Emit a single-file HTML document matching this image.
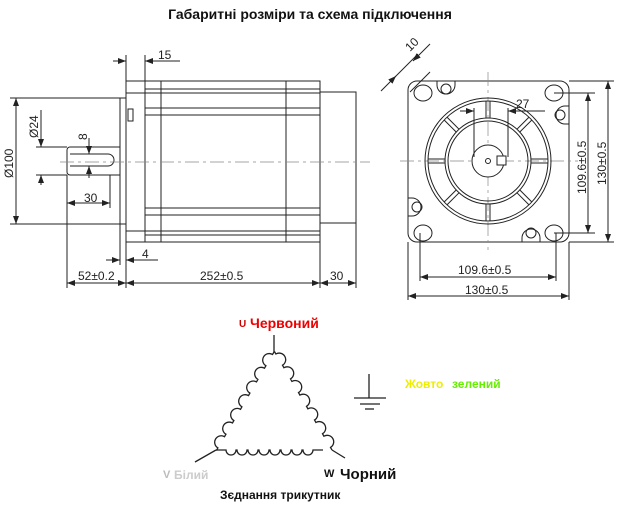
<!DOCTYPE html>
<html><head><meta charset="utf-8"><style>
html,body{margin:0;padding:0;background:#fff;}
svg{display:block;}
text{font-family:"Liberation Sans",sans-serif;}
</style></head><body>
<svg width="617" height="508" viewBox="0 0 617 508" xmlns="http://www.w3.org/2000/svg">
<defs>
<marker id="a" markerWidth="8" markerHeight="6" refX="8" refY="3" orient="auto" markerUnits="userSpaceOnUse"><path d="M0,0 L8,3 L0,6 z" fill="#222"/></marker>
</defs>
<text x="310" y="19" text-anchor="middle" font-size="14" font-weight="bold" fill="#111">Габаритні розміри та схема підключення</text>

<g stroke="#222" stroke-width="1" fill="none">
<rect x="126" y="81" width="194" height="161"/>
<line x1="145" y1="81" x2="145" y2="242"/>
<line x1="161" y1="81" x2="161" y2="242"/>
<line x1="286" y1="81" x2="286" y2="242"/>
<line x1="145" y1="89" x2="320" y2="89"/>
<line x1="126" y1="93" x2="320" y2="93"/>
<line x1="145" y1="108" x2="320" y2="108"/>
<line x1="145" y1="115" x2="320" y2="115"/>
<line x1="145" y1="208" x2="320" y2="208"/>
<line x1="145" y1="215" x2="320" y2="215"/>
<line x1="126" y1="231" x2="320" y2="231"/>
<line x1="145" y1="235" x2="320" y2="235"/>
<rect x="320" y="92" width="36" height="131"/>
<rect x="120" y="98" width="6" height="126"/>
<rect x="128" y="109" width="5" height="12"/>
<path d="M120,147 H70 a3,3 0 0 0 -3,3 V172 a3,3 0 0 0 3,3 H120"/>
<line x1="70" y1="154" x2="108" y2="154"/><line x1="70" y1="166" x2="108" y2="166"/>
<path d="M108,154 a6,6 0 0 1 0,12"/>
<line x1="60" y1="162" x2="370" y2="162" stroke-dasharray="14,4,3,4" stroke-width="0.7" stroke="#888"/>
<line x1="126" y1="55" x2="126" y2="81"/><line x1="145" y1="55" x2="145" y2="81"/>
<line x1="113" y1="61" x2="126" y2="61" marker-end="url(#a)"/><line x1="180" y1="61" x2="145" y2="61" marker-end="url(#a)"/>
<line x1="10" y1="98" x2="120" y2="98"/><line x1="10" y1="224" x2="120" y2="224"/>
<line x1="16" y1="162" x2="16" y2="98" marker-end="url(#a)"/><line x1="16" y1="162" x2="16" y2="224" marker-end="url(#a)"/>
<line x1="36" y1="147" x2="67" y2="147"/><line x1="36" y1="175" x2="67" y2="175"/>
<line x1="41" y1="110" x2="41" y2="147" marker-end="url(#a)"/><line x1="41" y1="185" x2="41" y2="175" marker-end="url(#a)"/>
<line x1="89" y1="138" x2="89" y2="154" marker-end="url(#a)"/><line x1="89" y1="178" x2="89" y2="166" marker-end="url(#a)"/>
<line x1="110" y1="175" x2="110" y2="208"/>
<line x1="88" y1="203" x2="67" y2="203" marker-end="url(#a)"/><line x1="88" y1="203" x2="110" y2="203" marker-end="url(#a)"/>
<line x1="67" y1="175" x2="67" y2="288"/><line x1="120" y1="224" x2="120" y2="265"/><line x1="126" y1="242" x2="126" y2="288"/>
<line x1="320" y1="242" x2="320" y2="288"/><line x1="356" y1="223" x2="356" y2="288"/>
<line x1="106" y1="260" x2="120" y2="260" marker-end="url(#a)"/><line x1="158" y1="260" x2="126" y2="260" marker-end="url(#a)"/>
<line x1="96" y1="283" x2="67" y2="283" marker-end="url(#a)"/><line x1="96" y1="283" x2="126" y2="283" marker-end="url(#a)"/>
<line x1="223" y1="283" x2="126" y2="283" marker-end="url(#a)"/><line x1="223" y1="283" x2="320" y2="283" marker-end="url(#a)"/>
<line x1="338" y1="283" x2="320" y2="283" marker-end="url(#a)"/><line x1="338" y1="283" x2="356" y2="283" marker-end="url(#a)"/>

<rect x="408" y="81" width="161" height="161" rx="9"/>
<line x1="488" y1="72" x2="488" y2="250" stroke="#888" stroke-width="0.7" stroke-dasharray="14,4,3,4"/>
<line x1="400" y1="161" x2="578" y2="161" stroke="#888" stroke-width="0.7" stroke-dasharray="14,4,3,4"/>
<circle cx="488" cy="161" r="63"/><circle cx="488" cy="161" r="60"/>
<circle cx="488" cy="161" r="43"/><circle cx="488" cy="161" r="40"/>
<g transform="translate(488,161)">
<g id="sp"><line x1="-2" y1="-43" x2="-2" y2="-60"/><line x1="2" y1="-43" x2="2" y2="-60"/></g>
<use href="#sp" transform="rotate(45)"/><use href="#sp" transform="rotate(90)"/><use href="#sp" transform="rotate(135)"/>
<use href="#sp" transform="rotate(180)"/><use href="#sp" transform="rotate(225)"/><use href="#sp" transform="rotate(270)"/><use href="#sp" transform="rotate(315)"/>
</g>
<circle cx="488" cy="161" r="16" fill="#fff"/><circle cx="488" cy="161" r="2.5"/>
<rect x="497" y="156" width="9" height="9" fill="#fff"/>
<ellipse cx="423" cy="93" rx="9" ry="8"/><ellipse cx="554" cy="93" rx="9" ry="8"/>
<ellipse cx="423" cy="233" rx="9" ry="8"/><ellipse cx="554" cy="233" rx="9" ry="8"/>
<circle cx="446" cy="89" r="5"/><path d="M437,81 v4 a9,9 0 0 0 18,0 v-4"/>
<circle cx="560" cy="115" r="5"/><path d="M569,106 h-4 a9,9 0 0 0 0,18 h4"/>
<circle cx="417" cy="207" r="5"/><path d="M408,198 h4 a9,9 0 0 1 0,18 h-4"/>
<circle cx="531" cy="233" r="5"/><path d="M522,242 v-4 a9,9 0 0 1 18,0 v4"/>
<line x1="474" y1="108" x2="474" y2="157"/><line x1="508" y1="108" x2="508" y2="157"/>
<line x1="460" y1="111" x2="474" y2="111" marker-end="url(#a)"/><line x1="545" y1="111" x2="508" y2="111" marker-end="url(#a)"/>
<line x1="392" y1="80" x2="418" y2="54"/><line x1="410" y1="92" x2="430" y2="72"/>
<line x1="381" y1="91" x2="396" y2="76" marker-end="url(#a)"/>
<line x1="430" y1="44" x2="413" y2="61" marker-end="url(#a)"/>
<line x1="554" y1="93" x2="595" y2="93"/><line x1="554" y1="233" x2="595" y2="233"/>
<line x1="569" y1="81" x2="614" y2="81"/><line x1="569" y1="242" x2="614" y2="242"/>
<line x1="588" y1="163" x2="588" y2="93" marker-end="url(#a)"/><line x1="588" y1="163" x2="588" y2="233" marker-end="url(#a)"/>
<line x1="608" y1="163" x2="608" y2="81" marker-end="url(#a)"/><line x1="608" y1="163" x2="608" y2="242" marker-end="url(#a)"/>
<line x1="420" y1="233" x2="420" y2="281"/><line x1="556" y1="233" x2="556" y2="281"/>
<line x1="408" y1="242" x2="408" y2="300"/><line x1="569" y1="242" x2="569" y2="300"/>
<line x1="488" y1="277" x2="420" y2="277" marker-end="url(#a)"/><line x1="488" y1="277" x2="556" y2="277" marker-end="url(#a)"/>
<line x1="488" y1="296" x2="408" y2="296" marker-end="url(#a)"/><line x1="488" y1="296" x2="569" y2="296" marker-end="url(#a)"/>
</g>

<g font-size="12" fill="#222">
<text x="158" y="59">15</text>
<text x="84" y="202">30</text>
<text x="142" y="258">4</text>
<text x="78" y="280">52±0.2</text>
<text x="200" y="280">252±0.5</text>
<text x="330" y="280">30</text>
<text transform="translate(13,178) rotate(-90)">Ø100</text>
<text transform="translate(38,138) rotate(-90)">Ø24</text>
<text transform="translate(87,140) rotate(-90)">8</text>
<text transform="translate(410,52) rotate(-45)">10</text>
<text x="516" y="108">27</text>
<text x="458" y="274">109.6±0.5</text>
<text x="465" y="294">130±0.5</text>
<text transform="translate(586,194) rotate(-90)">109.6±0.5</text>
<text transform="translate(606,185) rotate(-90)">130±0.5</text>
</g>

<g stroke="#222" stroke-width="1.3" fill="none">
<line x1="274" y1="335" x2="274" y2="352"/>
<line x1="216" y1="450" x2="195" y2="462"/>
<line x1="332" y1="450" x2="345" y2="458"/>
<path d="M274,352 l-1.5,2.5 a6.5,6.5 0 0 0 -6.6,11.2 l-1.4,2.5 a6.5,6.5 0 0 0 -6.6,11.2 l-1.4,2.5 a6.5,6.5 0 0 0 -6.6,11.2 l-1.4,2.5 a6.5,6.5 0 0 0 -6.6,11.2 l-1.4,2.5 a6.5,6.5 0 0 0 -6.6,11.2 l-1.4,2.5 a6.5,6.5 0 0 0 -6.6,11.2 l-1.4,2.5 a6.5,6.5 0 0 0 -6.6,11.2 l-1.5,2.6"/>
<path d="M216,450 h10 a5,5 0 0 0 10,0 h1 a5,5 0 0 0 10,0 h1 a5,5 0 0 0 10,0 h1 a5,5 0 0 0 10,0 h1 a5,5 0 0 0 10,0 h1 a5,5 0 0 0 10,0 h1 a5,5 0 0 0 10,0 h1 a5,5 0 0 0 10,0 h10"/>
<path d="M332,450 l-1.5,-2.6 a6.5,6.5 0 0 0 -6.6,-11.2 l-1.4,-2.5 a6.5,6.5 0 0 0 -6.6,-11.2 l-1.4,-2.5 a6.5,6.5 0 0 0 -6.6,-11.2 l-1.4,-2.5 a6.5,6.5 0 0 0 -6.6,-11.2 l-1.4,-2.5 a6.5,6.5 0 0 0 -6.6,-11.2 l-1.4,-2.5 a6.5,6.5 0 0 0 -6.6,-11.2 l-1.4,-2.5 a6.5,6.5 0 0 0 -6.6,-11.2 l-1.5,-2.5"/>
<line x1="369" y1="374" x2="369" y2="398"/>
<line x1="354" y1="398" x2="386" y2="398"/>
<line x1="360" y1="404" x2="380" y2="404"/>
<line x1="365" y1="409" x2="374" y2="409"/>
</g>
<g font-weight="bold">
<text x="239" y="327" font-size="10" fill="#c00">U</text>
<text x="250" y="328" font-size="14" fill="#e00">Червоний</text>
<text x="405" y="388" font-size="12" fill="#ee0">Жовто</text>
<text x="452" y="388" font-size="12" fill="#6e0">зелений</text>
<text x="163" y="478" font-size="11" fill="#bbb">V</text>
<text x="174" y="479" font-size="12" fill="#ccc">Білий</text>
<text x="324" y="477" font-size="11" fill="#111">W</text>
<text x="340" y="479" font-size="15" fill="#111">Чорний</text>
<text x="220" y="499" font-size="12" fill="#111">Зєднання трикутник</text>
</g>
</svg>
</body></html>
